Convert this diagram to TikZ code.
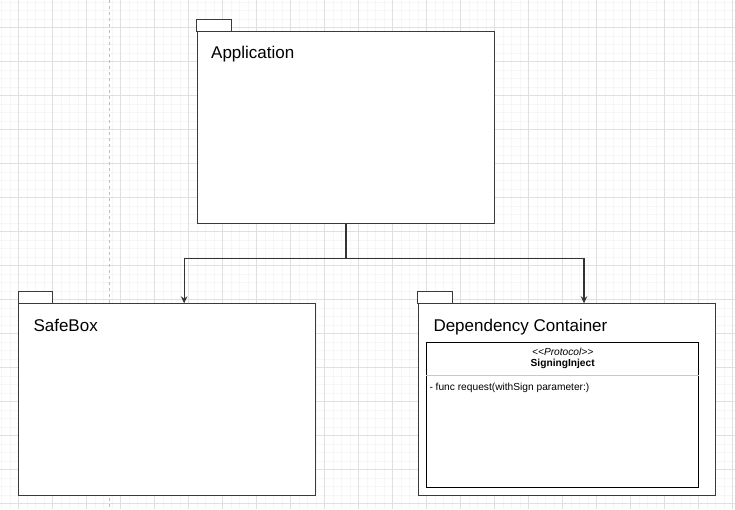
\documentclass[tikz,border=0pt]{standalone}
\usepackage{fontspec}
\setmainfont{Liberation Sans}
\usetikzlibrary{arrows.meta,calc}
\definecolor{gridminor}{HTML}{F6F6F6}
\definecolor{gridmajor}{HTML}{E0E0E0}
\definecolor{pkgline}{HTML}{3A3A3A}
\definecolor{divline}{HTML}{C8C8C8}
\definecolor{pagebreak}{HTML}{BDBDBD}
\begin{document}
\begin{tikzpicture}[x=1pt,y=-1pt,
  pkg/.style={draw=pkgline,fill=white,line width=0.9pt,minimum width=297.5pt,minimum height=191.5pt,inner sep=0pt},
  tabbox/.style={draw=pkgline,fill=white,line width=0.9pt},
  title/.style={anchor=base west,font=\fontsize{17}{20}\selectfont,inner sep=0pt},
  small/.style={font=\fontsize{10.2}{12}\selectfont,inner sep=0pt},
  classbox/.style={draw=black,fill=white,line width=0.9pt,minimum width=272pt,minimum height=144.7pt,inner sep=0pt},
  conn/.style={draw=black!80,line width=1.2pt},
  arr/.style={-{Stealth[length=7pt,width=6.5pt]}}
]
\useasboundingbox (0,0) rectangle (735,509);
\fill[white] (0,0) rectangle (735,509);
% background grid
\foreach \i in {0,...,86} {
  \draw[gridminor,line width=0.6pt] ({1.3+8.5*\i},0) -- ({1.3+8.5*\i},509);
}
\foreach \j in {0,...,59} {
  \draw[gridminor,line width=0.6pt] (0,{1.8+8.5*\j}) -- (735,{1.8+8.5*\j});
}
\foreach \i in {0,...,21} {
  \draw[gridmajor,line width=0.7pt] ({18.3+34*\i},0) -- ({18.3+34*\i},509);
}
\foreach \j in {0,...,14} {
  \draw[gridmajor,line width=0.7pt] (0,{27.3+34*\j}) -- (735,{27.3+34*\j});
}
% page break line
\draw[pagebreak,line width=0.7pt,dash pattern=on 3pt off 3pt] (109.3,0) -- (109.3,509);

% packages
\node[pkg] (app) at (346,127.35) {};
\draw[tabbox] (app.north west) rectangle ++(34.4,-12);
\node[title] (apptitle) at (211,58) {Application};

\node[pkg] (safe) at (167.15,399.5) {};
\draw[tabbox] (safe.north west) rectangle ++(34.4,-12);
\node[title] (safetitle) at (33.3,331.2) {SafeBox};

\node[pkg] (dep) at (567,399.5) {};
\draw[tabbox] (dep.north west) rectangle ++(34.4,-12);
\node[title] (deptitle) at (433.3,331.2) {Dependency Container};

% class inside dependency container
\node[classbox] (cls) at (562.7,414.65) {};
\draw[divline,line width=0.9pt] ([yshift=-33.4pt]cls.north west) -- ([yshift=-33.4pt]cls.north east);
\node[small,font=\fontsize{10.2}{12}\selectfont\itshape] (stereo) at (562.7,351.7) {<\kern0pt<Protocol>\kern0pt>};
\node[small,font=\fontsize{10.2}{12}\selectfont\bfseries] (clsname) at (562.7,363.6) {SigningInject};
\node[small,anchor=west] (method) at (429.3,388.3) {- func request(withSign parameter:)};

% connectors
\draw[conn] (app.south) -- ++(0,34.7) coordinate (split);
\draw[conn,arr] (split) -| ([xshift=17pt]safe.north);
\draw[conn,arr] (split) -| ([xshift=17pt]dep.north);
\end{tikzpicture}
\end{document}
